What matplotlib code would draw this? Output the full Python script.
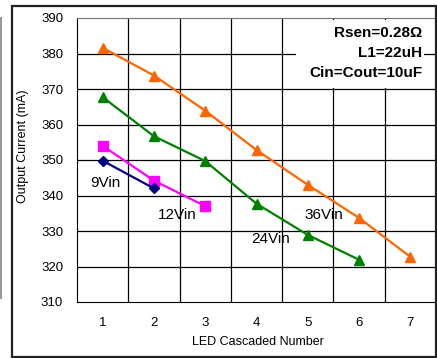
import matplotlib
matplotlib.use('Agg')
import matplotlib.pyplot as plt
from matplotlib.patches import Rectangle
from matplotlib.lines import Line2D

plt.rcParams['font.family'] = ['Liberation Sans', 'DejaVu Sans']

# data
x_9v = [1, 2]
y_9v = [349.8, 342.0]
x_12v = [1, 2, 3]
y_12v = [354.0, 344.2, 337.0]
x_24v = [1, 2, 3, 4, 5, 6]
y_24v = [367.7, 356.7, 349.7, 337.7, 328.9, 321.9]
x_36v = [1, 2, 3, 4, 5, 6, 7]
y_36v = [381.6, 373.8, 363.9, 352.8, 343.0, 333.7, 322.7]
series_labels = ['9Vin', '12Vin', '24Vin', '36Vin']
x_ticks = [1, 2, 3, 4, 5, 6, 7]
y_ticks = [310, 320, 330, 340, 350, 360, 370, 380, 390]
note_lines = ['Rsen=0.28Ω', 'L1=22uH', 'Cin=Cout=10uF']

fig = plt.figure(figsize=(4.37, 3.58), dpi=100)

# outer frame
fig.add_artist(Rectangle((12/437, 1/358), 424/437, 351/358, transform=fig.transFigure,
                         fill=False, edgecolor='#222222', lw=1.6))
fig.add_artist(Line2D([0.5/437, 0.5/437], [1-298/358, 1-18/358], transform=fig.transFigure,
                      color='#999999', lw=1.5))

ax = fig.add_axes([77/437, 1-302/358, 359/437, 284/358])
ax.set_xlim(0.5, 7.5)
ax.set_ylim(310, 390)

# grid: horizontal at ticks, vertical between categories
for y in y_ticks[1:-1]:
    ax.axhline(y, color='black', lw=0.9, zorder=1)
for xv in [1.5, 2.5, 3.5, 4.5, 5.5, 6.5]:
    ax.axvline(xv, color='black', lw=0.9, zorder=1)

# white box behind the notes
ax.add_patch(Rectangle((0.61, 0.755), 0.356, 0.238, transform=ax.transAxes,
                       facecolor='white', edgecolor='none', zorder=2))
for i, t in enumerate(note_lines):
    ax.text(0.962, 0.947 - i*0.0705, t, transform=ax.transAxes, ha='right', va='center',
            fontsize=11, fontweight='bold', zorder=3)

ax.plot(x_36v, y_36v, color='#FF6600', marker='^', ms=6.5, lw=1.6, zorder=4)
ax.plot(x_24v, y_24v, color='#008000', marker='^', ms=6.5, lw=1.6, zorder=4)
ax.plot(x_12v, y_12v, color='#FF00FF', marker='s', ms=6.5, lw=1.6, zorder=4)
ax.plot(x_9v, y_9v, color='#000080', marker='D', ms=5.5, lw=1.6, zorder=4)

label_pos = [(0.75, 343.5), (2.08, 334.5), (3.9, 327.8), (4.93, 334.4)]
for lbl, (lx, ly) in zip(series_labels, label_pos):
    ax.text(lx, ly, lbl, fontsize=11, ha='left', va='center', zorder=5)

ax.set_xticks(x_ticks)
ax.set_yticks(y_ticks)
ax.tick_params(length=0, labelsize=9.5)
ax.tick_params(axis='x', pad=11)
ax.tick_params(axis='y', pad=10)
ax.set_xlabel('LED Cascaded Number', fontsize=9)
ax.set_ylabel('Output Current (mA)', fontsize=9)
ax.xaxis.set_label_coords(0.505, -0.141)
ax.yaxis.set_label_coords(-0.150, 0.55)
ax.xaxis.label.set_va('center')
ax.yaxis.label.set_va('center')

for s in ['left', 'bottom']:
    ax.spines[s].set_color('black')
for s in ['top', 'right']:
    ax.spines[s].set_color('#777777')

fig.savefig('out.png', dpi=100)
